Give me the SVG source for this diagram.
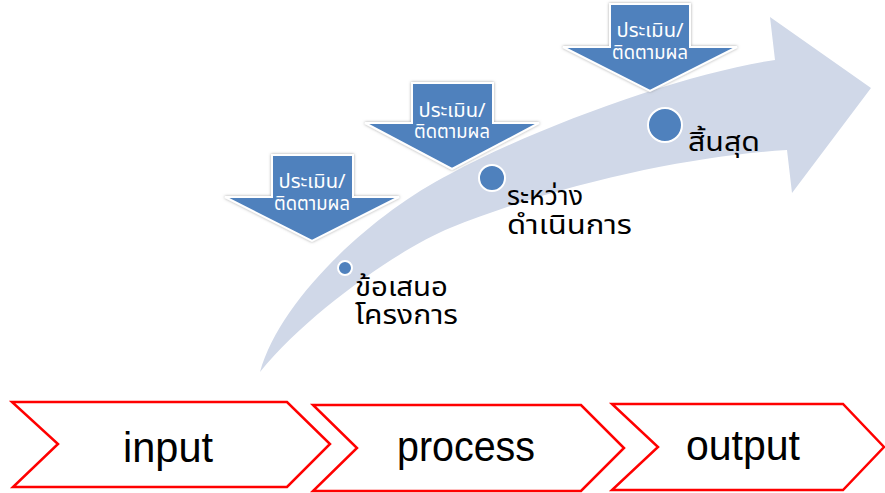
<svg xmlns="http://www.w3.org/2000/svg" width="885" height="493" viewBox="0 0 885 493">
  <defs>
    <style>
      .eval { fill: #4F81BD; stroke: #FFFFFF; stroke-width: 2; stroke-linejoin: miter; }
      .evaltxt { fill: #FFFFFF; font-family: Tahoma, "Noto Sans Thai", "Noto Sans", "DejaVu Sans", sans-serif; font-size: 19px; text-anchor: middle; }
      .dot { fill: #4F81BD; stroke: #FFFFFF; stroke-width: 2; }
      .label { fill: #000000; font-family: Tahoma, "Noto Sans Thai", "Noto Sans", "DejaVu Sans", sans-serif; font-size: 27px; }
      .chev { fill: #FFFFFF; stroke: #FF0000; stroke-width: 2.5; stroke-linejoin: miter; }
      .chevtxt { fill: #000000; font-family: "Liberation Sans", Arial, sans-serif; font-size: 42px; text-anchor: middle; }
    </style>
    <filter id="glow" x="-20%" y="-20%" width="140%" height="140%">
      <feDropShadow dx="0" dy="0" stdDeviation="1.6" flood-color="#7F7F7F" flood-opacity="0.7"/>
    </filter>
  </defs>

  <g id="flow-arrow">
    <path d="M260,372 C280,300 370,215 450,174 C540,125 690,72 775,60 L770,17 L871,88 L792,193 L787,150 C700,155 570,180 450,228 C405,246 310,310 260,372 Z" fill="#D0D8E8"/>
  </g>

  <g id="connectors"/>

  <g id="eval-1">
    <path class="eval" filter="url(#glow)" d="M272,155 L353,155 L353,197 L399,197 L312,241 L225,197 L272,197 Z"/>
    <text class="evaltxt" x="312" y="188" textLength="67" lengthAdjust="spacingAndGlyphs">ประเมิน/</text>
    <text class="evaltxt" x="312" y="210" textLength="76" lengthAdjust="spacingAndGlyphs">ติดตามผล</text>
  </g>

  <g id="eval-2">
    <path class="eval" filter="url(#glow)" d="M412,83 L493,83 L493,123 L539,123 L452,169 L365,123 L412,123 Z"/>
    <text class="evaltxt" x="452" y="117" textLength="67" lengthAdjust="spacingAndGlyphs">ประเมิน/</text>
    <text class="evaltxt" x="452" y="138" textLength="76" lengthAdjust="spacingAndGlyphs">ติดตามผล</text>
  </g>

  <g id="eval-3">
    <path class="eval" filter="url(#glow)" d="M610,4 L690,4 L690,47 L737,47 L650,91 L563,47 L610,47 Z"/>
    <text class="evaltxt" x="650" y="37" textLength="67" lengthAdjust="spacingAndGlyphs">ประเมิน/</text>
    <text class="evaltxt" x="650" y="59" textLength="76" lengthAdjust="spacingAndGlyphs">ติดตามผล</text>
  </g>

  <g id="stage-proposal">
    <circle class="dot" cx="345" cy="268" r="7"/>
    <text class="label" x="355" y="296" textLength="93" lengthAdjust="spacingAndGlyphs">ข้อเสนอ</text>
    <text class="label" x="355" y="324" textLength="103" lengthAdjust="spacingAndGlyphs">โครงการ</text>
  </g>

  <g id="stage-during">
    <circle class="dot" cx="492" cy="178" r="13"/>
    <text class="label" x="507" y="205" textLength="76" lengthAdjust="spacingAndGlyphs">ระหว่าง</text>
    <text class="label" x="507" y="234" textLength="125" lengthAdjust="spacingAndGlyphs">ดำเนินการ</text>
  </g>

  <g id="stage-end">
    <circle class="dot" cx="665" cy="125" r="17"/>
    <text class="label" x="688" y="151" textLength="72" lengthAdjust="spacingAndGlyphs">สิ้นสุด</text>
  </g>

  <g id="input">
    <path class="chev" d="M12,402 L287,402 L330,444 L287,487 L13,487 L58,444 Z"/>
    <text class="chevtxt" x="168" y="462" textLength="90" lengthAdjust="spacingAndGlyphs">input</text>
  </g>

  <g id="process">
    <path class="chev" d="M313,405 L581,405 L624,448 L581,491 L313,491 L357,448 Z"/>
    <text class="chevtxt" x="466" y="461" textLength="138" lengthAdjust="spacingAndGlyphs">process</text>
  </g>

  <g id="output">
    <path class="chev" d="M612,404 L843,404 L884,447 L843,490 L612,490 L658,447 Z"/>
    <text class="chevtxt" x="743" y="460" textLength="114" lengthAdjust="spacingAndGlyphs">output</text>
  </g>
</svg>
